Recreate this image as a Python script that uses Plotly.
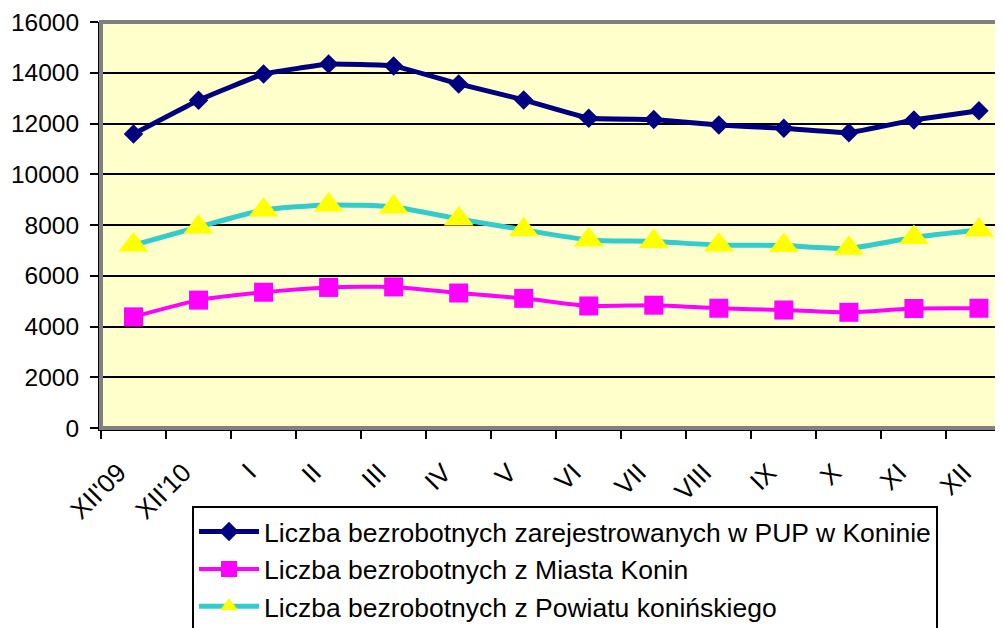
import plotly.graph_objects as go

months = ["XII'09", "XII'10", "I", "II", "III", "IV", "V", "VI", "VII", "VIII", "IX", "X", "XI", "XII"]
pup_total = [11590, 12920, 13950, 14340, 14270, 13560, 12930, 12210, 12160, 11940, 11810, 11640, 12140, 12500]
miasto_konin = [4380, 5040, 5350, 5540, 5560, 5320, 5110, 4810, 4840, 4720, 4650, 4560, 4710, 4720]
powiat_koninski = [7210, 7920, 8590, 8790, 8710, 8240, 7810, 7410, 7350, 7210, 7190, 7080, 7510, 7800]

names = [
    "Liczba bezrobotnych zarejestrowanych w PUP w Koninie",
    "Liczba bezrobotnych z Miasta Konin",
    "Liczba bezrobotnych z Powiatu konińskiego",
]

FONT = "Liberation Sans, Arial, sans-serif"

fig = go.Figure()
fig.add_trace(go.Scatter(
    x=months, y=pup_total, name=names[0], mode="lines+markers",
    line=dict(color="#000080", width=5, shape="spline", smoothing=0.25),
    marker=dict(symbol="diamond", size=15, color="#000080"),
    legendgroup="a",
))
fig.add_trace(go.Scatter(
    x=months, y=miasto_konin, name=names[1], mode="lines+markers",
    line=dict(color="#FF00FF", width=4, shape="spline", smoothing=0.6),
    marker=dict(symbol="square", size=19, color="#FF00FF"),
    legendgroup="b",
))
fig.add_trace(go.Scatter(
    x=months, y=powiat_koninski, name=names[2], mode="lines+markers",
    line=dict(color="#33CCCC", width=5, shape="spline", smoothing=0.6),
    marker=dict(symbol="triangle-up", size=26, color="#FFFF00"),
    legendgroup="c",
))

# page has an 8px body margin: figure is placed at (8, 8)
fig.update_layout(
    width=995, height=620,
    margin=dict(l=93, r=0, t=14, b=200, pad=0, autoexpand=False),
    paper_bgcolor="white",
    plot_bgcolor="#FFFFCC",
    font=dict(family=FONT, size=24, color="black"),
    showlegend=True,
    legend=dict(
        x=0.1009, y=-0.1915, xanchor="left", yanchor="top",
        bgcolor="white", bordercolor="black", borderwidth=2,
        font=dict(family=FONT, size=26.5, color="black"),
        traceorder="grouped", tracegroupgap=0,
        itemwidth=60,
    ),
    xaxis=dict(
        type="category", range=[-0.5, 13.37],
        automargin=False,
        showgrid=False, zeroline=False,
        showline=True, linecolor="black", linewidth=3,
        ticks="outside", ticklen=8, tickwidth=2, tickcolor="black",
        tickson="boundaries",
        tickangle=-45,
        ticklabelshift=-15, ticklabelstandoff=16,
        tickfont=dict(family=FONT, size=26, color="black"),
    ),
    yaxis=dict(
        range=[0, 16000], tickmode="linear", tick0=0, dtick=2000,
        tickformat="d", automargin=False,
        showgrid=True, gridcolor="black", gridwidth=2,
        zeroline=False,
        showline=True, linecolor="black", linewidth=3,
        ticks="outside", ticklen=8, tickwidth=2, tickcolor="black",
        tickfont=dict(family=FONT, size=24.5, color="black"),
        ticklabelstandoff=6,
    ),
    shapes=[dict(
        type="rect", xref="paper", yref="paper", x0=0, x1=1.02, y0=0, y1=1,
        line=dict(color="#808080", width=4), layer="above",
    )],
)

fig.write_html("out.html")
